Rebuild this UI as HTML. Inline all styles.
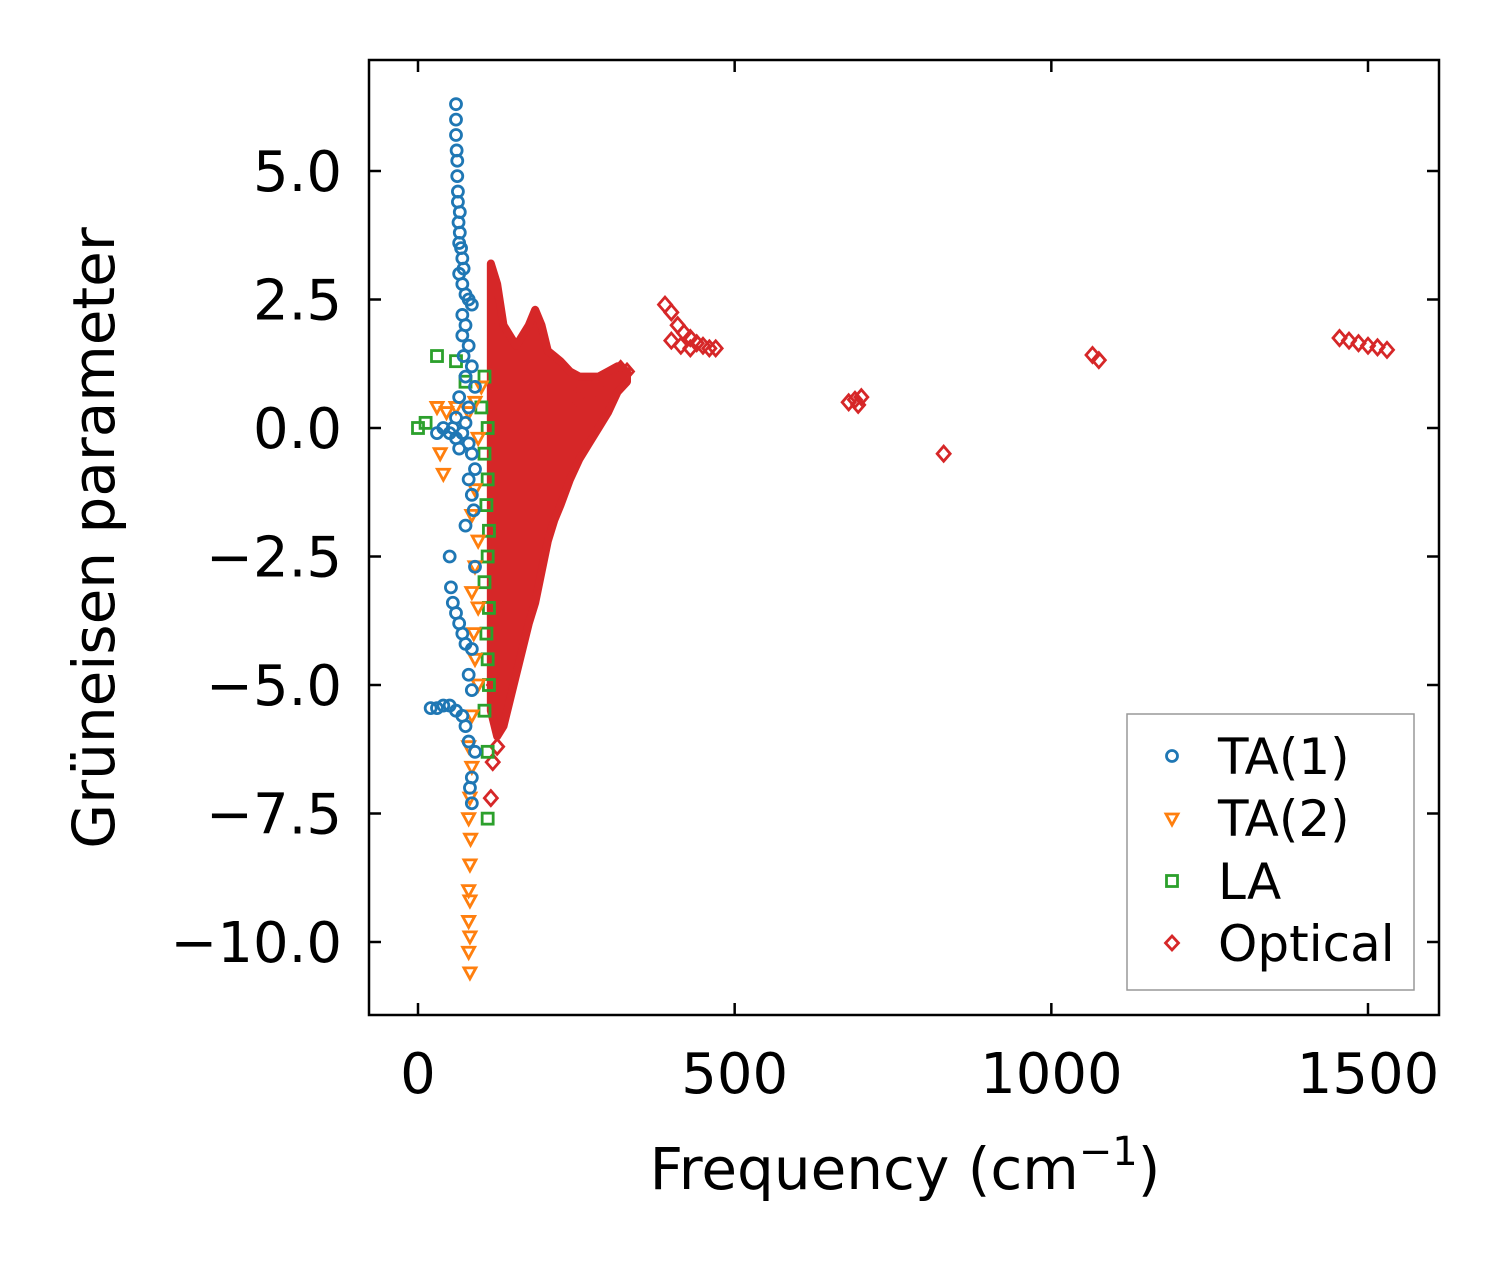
<!DOCTYPE html>
<html><head><meta charset="utf-8"><style>
body{margin:0;background:#fff;}
svg text{font-family:"DejaVu Sans","Liberation Sans",sans-serif;fill:#000;}
</style></head><body>
<svg id="chart" width="1501" height="1264" viewBox="0 0 1501 1264" xmlns="http://www.w3.org/2000/svg" style="position:absolute;left:0;top:0">
<rect width="1501" height="1264" fill="#fff"/>
<g id="marks"></g>
<g id="axes"></g>
</svg>
<script>
const xTicks=[0,500,1000,1500];
const xTickLabels=["0","500","1000","1500"];
const yTicks=[5,2.5,0,-2.5,-5,-7.5,-10];
const yTickLabels=["5.0","2.5","0.0","\u22122.5","\u22125.0","\u22127.5","\u221210.0"];
const ta1=[[60,6.3],[60,6.0],[60,5.7],[61,5.4],[62,5.2],[62,4.9],[63,4.6],[63,4.4],[66,4.2],[64,4.0],[66,3.8],[65,3.6],[68,3.5],[70,3.3],[72,3.1],[65,3.0],[70,2.8],[75,2.6],[80,2.5],[85,2.4],[70,2.2],[75,2.0],[70,1.8],[80,1.6],[72,1.4],[85,1.2],[75,1.0],[90,0.8],[65,0.6],[80,0.4],[60,0.2],[75,0.1],[55,0.0],[70,-0.1],[60,-0.2],[80,-0.3],[50,-0.1],[65,-0.4],[85,-0.5],[40,0.0],[30,-0.1],[90,-0.8],[80,-1.0],[85,-1.3],[88,-1.6],[75,-1.9],[50,-2.5],[90,-2.7],[52,-3.1],[55,-3.4],[60,-3.6],[65,-3.8],[70,-4.0],[75,-4.2],[85,-4.3],[80,-4.8],[85,-5.1],[20,-5.45],[30,-5.45],[40,-5.4],[50,-5.4],[60,-5.5],[70,-5.6],[75,-5.8],[80,-6.1],[90,-6.3],[85,-6.8],[82,-7.0],[85,-7.3]];
const ta2=[[30,0.4],[45,0.3],[60,0.4],[80,0.3],[90,0.5],[100,0.8],[35,-0.5],[40,-0.9],[95,-0.2],[90,-1.2],[85,-1.7],[95,-2.2],[90,-2.7],[85,-3.2],[95,-3.5],[88,-4.0],[90,-4.5],[95,-5.0],[85,-5.6],[80,-6.2],[85,-6.6],[82,-7.2],[80,-7.6],[83,-8.0],[82,-8.5],[80,-9.0],[82,-9.2],[80,-9.6],[82,-9.9],[80,-10.2],[82,-10.6]];
const la=[[0,0.0],[12,0.1],[30,1.4],[60,1.3],[75,0.9],[105,1.0],[100,0.4],[110,0.0],[105,-0.5],[110,-1.0],[108,-1.5],[112,-2.0],[110,-2.5],[105,-3.0],[112,-3.5],[108,-4.0],[110,-4.5],[112,-5.0],[105,-5.5],[110,-6.3],[110,-7.6]];
const opt=[[390,2.4],[400,2.25],[410,2.0],[420,1.85],[430,1.75],[440,1.65],[450,1.6],[460,1.55],[470,1.55],[400,1.7],[415,1.6],[430,1.55],[680,0.5],[690,0.55],[700,0.6],[695,0.45],[830,-0.5],[1065,1.42],[1075,1.32],[1455,1.75],[1470,1.7],[1485,1.65],[1500,1.6],[1515,1.57],[1530,1.52],[118,-6.5],[115,-7.2],[125,-6.2],[120,-5.0],[250,0.6],[280,0.8],[320,1.15],[330,1.1]];
const bandF=[115,125,135,145,155,165,175,185,195,205,215,225,240,255,270,285,300,315,330];
const bandLo=[-5.5,-6.0,-5.8,-5.3,-4.8,-4.3,-3.8,-3.4,-2.8,-2.2,-1.8,-1.5,-1.0,-0.6,-0.3,0.0,0.3,0.7,0.9];
const bandHi=[3.2,2.8,2.0,1.8,1.6,1.8,2.0,2.3,2.0,1.5,1.4,1.3,1.1,1.0,1.0,1.0,1.1,1.2,1.1];

const X0=369,X1=1439,Y0=60,Y1=1015;
const xs=v=>418+v*(1368-418)/1500;
const ys=v=>428-v*(428-171)/5;
const NS="http://www.w3.org/2000/svg";
const marks=document.getElementById('marks'),axes=document.getElementById('axes');
function el(t,a,p){const e=document.createElementNS(NS,t);for(const k in a)e.setAttribute(k,a[k]);p.appendChild(e);return e;}
const colors={ta1:"#1f77b4",ta2:"#ff7f0e",la:"#2ca02c",opt:"#d62728"};
function marker(kind,cx,cy,p){
  const c=colors[kind];let m;
  if(kind==='ta1')m=el('circle',{cx,cy,r:5.5,fill:'none',stroke:c,'stroke-width':2.8},p);
  else if(kind==='ta2')m=el('polygon',{points:`${cx-6},${cy-5} ${cx+6},${cy-5} ${cx},${cy+6}`,fill:'none',stroke:c,'stroke-width':2.8},p);
  else if(kind==='la')m=el('rect',{x:cx-5.5,y:cy-5.5,width:11,height:11,fill:'none',stroke:c,'stroke-width':2.8},p);
  else m=el('polygon',{points:`${cx},${cy-7.5} ${cx+6.5},${cy} ${cx},${cy+7.5} ${cx-6.5},${cy}`,fill:'none',stroke:c,'stroke-width':2.8},p);
  return m;
}
let pts=bandF.map((f,i)=>xs(f)+','+ys(bandHi[i])).concat(bandF.slice().reverse().map((f,j)=>{const i=bandF.length-1-j;return xs(f)+','+ys(bandLo[i]);}));
const band=el('polygon',{points:pts.join(' '),fill:'#d62728',stroke:'#d62728','stroke-width':8,'stroke-linejoin':'round'},marks);


for(const [k,arr] of [['opt',opt],['la',la],['ta2',ta2],['ta1',ta1]]){
  arr.forEach(d=>{const m=marker(k,xs(d[0]),ys(d[1]),marks);
    
    });
}
const fr=el('rect',{x:X0,y:Y0,width:X1-X0,height:Y1-Y0,fill:'none',stroke:'#000','stroke-width':2.5},axes);


xTicks.forEach((v,i)=>{const x=xs(v);
  el('line',{x1:x,x2:x,y1:Y1,y2:Y1-12,stroke:'#000','stroke-width':2.5},axes);
  el('line',{x1:x,x2:x,y1:Y0,y2:Y0+12,stroke:'#000','stroke-width':2.5},axes);
  const t=el('text',{x:x,y:1093,'font-size':56,'text-anchor':'middle'},axes);t.textContent=xTickLabels[i];
  
  });
yTicks.forEach((v,i)=>{const y=ys(v);
  el('line',{x1:X0,x2:X0+12,y1:y,y2:y,stroke:'#000','stroke-width':2.5},axes);
  el('line',{x1:X1,x2:X1-12,y1:y,y2:y,stroke:'#000','stroke-width':2.5},axes);
  const t=el('text',{x:342,y:y+20,'font-size':56,'text-anchor':'end'},axes);t.textContent=yTickLabels[i];
  
  });
</script>
<svg style="position:absolute;left:0;top:0" width="1501" height="1264">
<text x="905" y="1189" font-size="58" text-anchor="middle" font-family="DejaVu Sans,Liberation Sans,sans-serif">Frequency (cm<tspan dy="-24" font-size="40">−1</tspan><tspan dy="24">)</tspan></text>
<text transform="translate(114,538) rotate(-90)" font-size="58" text-anchor="middle" font-family="DejaVu Sans,Liberation Sans,sans-serif">Grüneisen parameter</text>
<g font-family="DejaVu Sans,Liberation Sans,sans-serif" font-size="50">
<rect x="1127" y="714" width="287" height="276" fill="#fff" stroke="#999" stroke-width="1.5"/>
<circle cx="1172" cy="756" r="5.5" fill="none" stroke="#1f77b4" stroke-width="2.8"/>
<text x="1218" y="774">TA(1)</text>
<polygon points="1166,814 1178,814 1172,825" fill="none" stroke="#ff7f0e" stroke-width="2.8"/>
<text x="1218" y="836">TA(2)</text>
<rect x="1166.5" y="875.5" width="11" height="11" fill="none" stroke="#2ca02c" stroke-width="2.8"/>
<text x="1218" y="899">LA</text>
<polygon points="1172,936 1178.5,943 1172,950 1165.5,943" fill="none" stroke="#d62728" stroke-width="2.8"/>
<text x="1218" y="961">Optical</text>
</g>
</svg>
</body></html>
